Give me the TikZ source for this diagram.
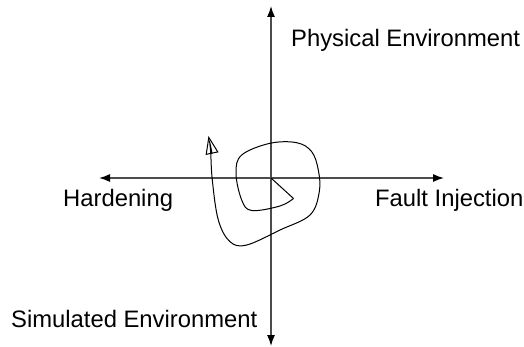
\documentclass[tikz,border=0pt]{standalone}
\usepackage{fontspec}
\setmainfont{Liberation Sans}
\usetikzlibrary{arrows.meta}
\begin{document}
\begin{tikzpicture}[x=1pt,y=-1pt,
  axis/.style={draw=black!70,line width=1.3pt,-{Latex[length=11pt,width=8pt,black]}},
  lbl/.style={inner sep=0pt,anchor=base west,font=\fontsize{23.8}{27}\selectfont},
  spiral/.style={draw=black,line width=1pt}]
\useasboundingbox (0,0) rectangle (524,347);
\coordinate (o) at (271,178);
\coordinate (top) at (271,6);
\coordinate (bot) at (271,346);
\coordinate (left) at (99,178);
\coordinate (right) at (444,178);
\draw[axis] (o) -- (top);
\draw[axis] (o) -- (bot);
\draw[axis] (o) -- (left);
\draw[axis] (o) -- (right);
\node[lbl] (phys) at (291,47) {Physical Environment};
\node[lbl] (hard) at (63,207) {Hardening};
\node[lbl] (fault) at (375,207) {Fault Injection};
\node[lbl] (sim) at (11,327) {Simulated Environment};
\coordinate (c1) at (293.5,198.5);
\draw[spiral] (o) -- (c1);
\draw[spiral,-{Triangle[open,length=18pt,width=13pt,line width=1pt]}]
  plot[smooth,tension=0.6] coordinates {
  (293.5,198.5) (280,206) (251.7,210.5) (241.7,200) (236,173.3) (241.7,155)
  (270,143.3) (296.7,142.7) (311.7,151.7) (318.3,170) (319.3,191.7) (310,215)
  (280,230) (246.7,245) (230,241.7) (218.3,220) (212.3,180) (210.5,150) (208.5,136)};
\end{tikzpicture}
\end{document}
